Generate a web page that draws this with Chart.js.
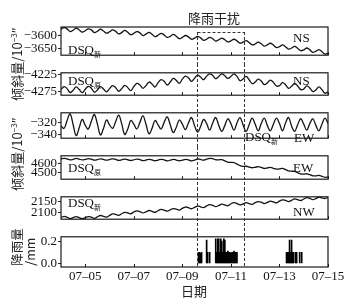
<!DOCTYPE html>
<html>
<head>
<meta charset="utf-8">
<script src="https://cdn.jsdelivr.net/npm/chart.js@4.4.0/dist/chart.umd.min.js"></script>
<style>
body{margin:0;background:#fff;width:364px;height:301px;overflow:hidden;position:relative;font-family:"Liberation Serif",serif;color:#111}
canvas{position:absolute;left:0}
.t{position:absolute;font-size:13px;line-height:13px;white-space:nowrap}
.t sub{font-family:"Noto Sans CJK SC";font-size:7px;vertical-align:-3px;line-height:7px}
.cn{position:absolute;font-family:"Noto Sans CJK SC";font-size:13px;line-height:13px;white-space:nowrap;color:#222}
.cn sup{font-size:8px;vertical-align:5px;line-height:8px}
.rot{transform:translate(-50%,-50%) rotate(-90deg)}
.mid{transform:translate(-50%,-50%)}
</style>
</head>
<body>
<canvas id="p1" width="364" height="64" style="top:0px"></canvas>
<canvas id="p2" width="364" height="40" style="top:64px"></canvas>
<canvas id="p3" width="364" height="43" style="top:104px"></canvas>
<canvas id="p4" width="364" height="41" style="top:147px"></canvas>
<canvas id="p5" width="364" height="40" style="top:188px"></canvas>
<canvas id="rain" width="364" height="73" style="top:228px"></canvas>

<div class="cn mid" style="left:214px;top:17px">降雨干扰</div>
<div class="cn rot" style="left:16px;top:64px">倾斜量/10<sup>−3</sup>″</div>
<div class="cn rot" style="left:16px;top:154px">倾斜量/10<sup>−3</sup>″</div>
<div class="cn rot" style="left:23px;top:247px;font-size:12.5px;text-align:left">降雨量<br>/mm</div>
<div class="cn mid" style="left:194px;top:290px">日期</div>

<div class="t" style="left:293px;top:31px">NS</div>
<div class="t" style="left:68px;top:43px">DSQ<sub>新</sub></div>
<div class="t" style="left:293px;top:74px">NS</div>
<div class="t" style="left:68px;top:74px">DSQ<sub>原</sub></div>
<div class="t" style="left:245px;top:130px">DSQ<sub>新</sub></div>
<div class="t" style="left:294px;top:131px">EW</div>
<div class="t" style="left:293px;top:161px">EW</div>
<div class="t" style="left:68px;top:161px">DSQ<sub>原</sub></div>
<div class="t" style="left:293px;top:205px">NW</div>
<div class="t" style="left:68px;top:196px">DSQ<sub>新</sub></div>

<script>
// time axis: hours since 07-04 00:00, samples every 3 h
const sampleStep = 3;
const tickHours = [24, 72, 120, 168, 216, 264];
const tickLabels = ['07-05', '07-07', '07-09', '07-11', '07-13', '07-15'];
const rainWindow = [134, 181];

// NS, DSQ new
const nsNew = [
  -3578, -3571, -3576, -3586, -3581, -3573, -3580, -3588,
  -3583, -3576, -3580, -3590, -3585, -3577, -3584, -3592,
  -3587, -3580, -3585, -3595, -3590, -3582, -3589, -3598,
  -3593, -3586, -3591, -3601, -3596, -3589, -3596, -3605,
  -3600, -3593, -3599, -3608, -3604, -3597, -3604, -3613,
  -3608, -3601, -3606, -3615, -3611, -3604, -3610, -3619,
  -3615, -3608, -3613, -3622, -3617, -3611, -3617, -3625,
  -3621, -3615, -3621, -3630, -3626, -3620, -3627, -3636,
  -3633, -3626, -3632, -3641, -3636, -3630, -3637, -3646,
  -3643, -3636, -3643, -3652, -3648, -3642, -3649, -3658,
  -3655, -3648, -3655, -3664, -3660, -3654, -3662, -3671,
  -3667
];
// NS, DSQ original
const nsOld = [
  -4270, -4261, -4267, -4279, -4272, -4262, -4270, -4279,
  -4269, -4260, -4266, -4278, -4271, -4261, -4268, -4277,
  -4267, -4258, -4264, -4275, -4267, -4257, -4264, -4273,
  -4261, -4251, -4256, -4266, -4258, -4247, -4253, -4262,
  -4249, -4240, -4245, -4256, -4247, -4236, -4242, -4251,
  -4238, -4229, -4234, -4245, -4236, -4226, -4232, -4240,
  -4229, -4222, -4227, -4237, -4230, -4222, -4228, -4236,
  -4230, -4222, -4230, -4243, -4238, -4230, -4240, -4252,
  -4247, -4238, -4244, -4255, -4250, -4241, -4248, -4259,
  -4258, -4249, -4255, -4266, -4260, -4251, -4259, -4270,
  -4268, -4259, -4265, -4276, -4271, -4262, -4270, -4281,
  -4277
];
// EW, DSQ new
const ewNew = [
  -326, -330, -317, -306, -324, -342, -329, -315,
  -325, -331, -318, -307, -323, -341, -330, -316,
  -324, -330, -319, -308, -322, -340, -331, -317,
  -323, -331, -320, -309, -323, -339, -330, -317,
  -324, -331, -320, -311, -324, -337, -328, -316,
  -323, -332, -321, -312, -325, -336, -327, -315,
  -322, -333, -321, -312, -325, -335, -325, -314,
  -322, -333, -321, -312, -324, -335, -324, -313,
  -323, -334, -322, -313, -325, -334, -323, -313,
  -322, -334, -321, -312, -326, -335, -324, -314,
  -323, -333, -322, -314, -325, -334, -323, -313,
  -322
];
// EW, DSQ original
const ewOld = [
  4645, 4653, 4646, 4636, 4642, 4651, 4644, 4635,
  4641, 4649, 4643, 4632, 4638, 4647, 4640, 4632,
  4639, 4647, 4641, 4630, 4636, 4644, 4637, 4629,
  4636, 4644, 4638, 4627, 4633, 4642, 4635, 4626,
  4634, 4642, 4636, 4625, 4632, 4641, 4634, 4625,
  4633, 4641, 4635, 4625, 4633, 4645, 4640, 4633,
  4644, 4652, 4648, 4637, 4636, 4638, 4625, 4612,
  4608, 4605, 4590, 4572, 4565, 4566, 4558, 4550,
  4555, 4561, 4553, 4542, 4547, 4553, 4544, 4534,
  4538, 4542, 4530, 4515, 4512, 4510, 4496, 4484,
  4480, 4484, 4474, 4462, 4462, 4466, 4456, 4446,
  4448
];
// NW, DSQ new
const nwNew = [
  2076, 2081, 2077, 2071, 2075, 2080, 2075, 2071,
  2075, 2080, 2077, 2072, 2079, 2085, 2081, 2078,
  2085, 2092, 2090, 2086, 2093, 2099, 2097, 2093,
  2101, 2106, 2103, 2097, 2102, 2108, 2104, 2100,
  2107, 2113, 2110, 2105, 2111, 2117, 2114, 2110,
  2118, 2124, 2121, 2116, 2122, 2128, 2125, 2121,
  2129, 2135, 2132, 2126, 2131, 2137, 2134, 2130,
  2139, 2144, 2140, 2134, 2138, 2144, 2140, 2136,
  2144, 2149, 2146, 2140, 2145, 2151, 2148, 2143,
  2151, 2157, 2154, 2149, 2155, 2161, 2158, 2154,
  2161, 2167, 2164, 2158, 2163, 2169, 2166, 2163,
  2169
];
// hourly rainfall, mm
const rainHours = [136, 137, 138, 139, 144, 145, 147,
  153, 154, 155, 156, 157, 158, 159, 160, 161, 162, 163, 164, 165, 166, 167, 168, 169, 170, 171, 172, 173, 174,
  223, 224, 225, 226, 227, 228, 229, 230, 232, 233, 236, 238];
const rainValues = [0.1, 0.1, 0.09, 0.1, 0.21, 0.1, 0.1,
  0.22, 0.1, 0.22, 0.22, 0.1, 0.22, 0.2, 0.1, 0.22, 0.21, 0.1, 0.1, 0.11, 0.1, 0.1, 0.09, 0.1, 0.1, 0.11, 0.1, 0.1, 0.1,
  0.1, 0.1, 0.1, 0.21, 0.1, 0.21, 0.1, 0.1, 0.1, 0.1, 0.1, 0.1];

const yTicksNsNew = [-3650, -3600];
const yTicksNsOld = [-4275, -4250, -4225];
const yTicksEwNew = [-340, -320];
const yTicksEwOld = [4500, 4600];
const yTicksNwNew = [2100, 2150];
const yTicksRain = [0, 0.1, 0.2];

const sampleHours = nsNew.map((_, i) => i * sampleStep);

const framePlugin = {
  id: 'frame',
  afterDatasetsDraw(chart, args, opts) {
    const { ctx, chartArea: a, scales: { x } } = chart;
    ctx.save();
    ctx.strokeStyle = '#1a1a1a';
    ctx.lineWidth = 1.2;
    ctx.strokeRect(a.left, a.top, a.right - a.left, a.bottom - a.top);
    // small inward ticks on the time axis
    ctx.lineWidth = 1;
    tickHours.forEach(h => {
      const px = Math.round(x.getPixelForValue(h)) + 0.5;
      ctx.beginPath();
      ctx.moveTo(px, a.bottom);
      ctx.lineTo(px, a.bottom - 3);
      ctx.stroke();
    });
    // rain disturbance window
    ctx.strokeStyle = '#333';
    ctx.setLineDash([3, 2]);
    const y0 = opts.boxTop ? a.top + 5 : 0;
    const y1 = opts.last ? a.bottom : chart.height;
    const xs = rainWindow.map(h => Math.round(x.getPixelForValue(h)) + 0.5);
    xs.forEach(px => {
      ctx.beginPath();
      ctx.moveTo(px, y0);
      ctx.lineTo(px, y1);
      ctx.stroke();
    });
    if (opts.boxTop) {
      ctx.beginPath();
      ctx.moveTo(xs[0], y0 + 0.5);
      ctx.lineTo(xs[1], y0 + 0.5);
      ctx.stroke();
    }
    ctx.restore();
  }
};

const tickFont = { family: 'Liberation Serif', size: 13 };

function yAxis(min, max, ticks, fmt) {
  return {
    min: min, max: max,
    afterFit(s) { s.width = 61; },
    afterBuildTicks(s) { s.ticks = ticks.map(v => ({ value: v })); },
    border: { display: false },
    grid: { drawOnChartArea: false, drawTicks: true, tickLength: 3, color: '#222' },
    ticks: { font: tickFont, color: '#111', padding: 1, callback: fmt || (v => String(v).replace('-', '\u2212')) }
  };
}

function xAxis(last) {
  return {
    type: 'linear', min: 0, max: 264, offset: false,
    afterFit(s) { s.height = last ? 34 : 0; },
    afterBuildTicks(s) { s.ticks = tickHours.map(v => ({ value: v })); },
    border: { display: false },
    grid: { display: false, drawTicks: false, offset: false },
    ticks: {
      display: !!last, font: tickFont, color: '#111', padding: 2, maxRotation: 0,
      callback: v => tickLabels[tickHours.indexOf(v)].replace('-', '\u2013')
    }
  };
}

function linePanel(id, series, min, max, ticks, padTop, padBottom, boxTop) {
  new Chart(document.getElementById(id), {
    type: 'line',
    data: {
      datasets: [{
        data: sampleHours.map((h, i) => ({ x: h, y: series[i] })),
        borderColor: '#151515', borderWidth: 1.3, pointRadius: 0, tension: 0.4, fill: false
      }]
    },
    options: {
      responsive: false, animation: false, events: [],
      layout: { autoPadding: false, padding: { left: 0, right: 36, top: padTop, bottom: padBottom } },
      plugins: { legend: { display: false }, tooltip: { enabled: false }, frame: { boxTop: boxTop } },
      scales: { x: xAxis(false), y: yAxis(min, max, ticks) }
    },
    plugins: [framePlugin]
  });
}

linePanel('p1', nsNew, -3675, -3569, yTicksNsNew, 27, 3, true);
linePanel('p2', nsOld, -4287, -4219, yTicksNsOld, 3, 4, false);
linePanel('p3', ewNew, -346.3, -304.1, yTicksEwNew, 5, 4, false);
linePanel('p4', ewOld, 4425, 4680, yTicksEwOld, 4, 3, false);
linePanel('p5', nwNew, 2068, 2171, yTicksNwNew, 3, 4, false);

new Chart(document.getElementById('rain'), {
  type: 'bar',
  data: {
    datasets: [{
      data: rainHours.map((h, i) => ({ x: h, y: rainValues[i] })),
      backgroundColor: '#000', borderWidth: 0, barThickness: 1
    }]
  },
  options: {
    responsive: false, animation: false, events: [],
    layout: { autoPadding: false, padding: { left: 0, right: 36, top: 3, bottom: 0 } },
    plugins: { legend: { display: false }, tooltip: { enabled: false }, frame: { last: true } },
    scales: { x: xAxis(true), y: yAxis(-0.032, 0.239, yTicksRain, v => v.toFixed(1)) }
  },
  plugins: [framePlugin]
});
</script>
</body>
</html>
